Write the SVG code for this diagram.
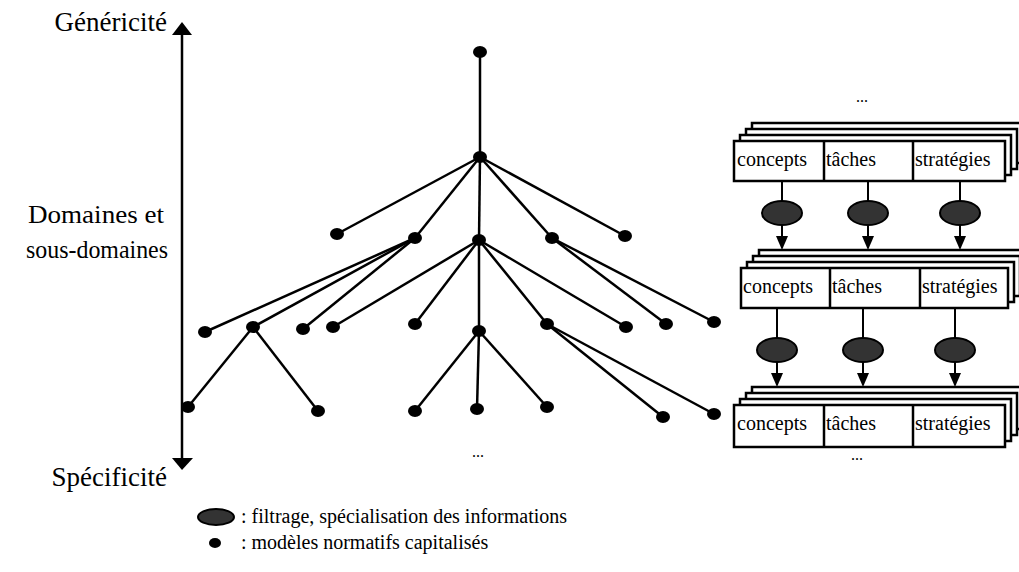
<svg xmlns="http://www.w3.org/2000/svg" width="1019" height="572" viewBox="0 0 1019 572">
<defs>
<style>
.lbl{font-family:"Liberation Serif","Times New Roman",serif;font-size:26px;fill:#000}
.big{font-size:27px}
.box{font-family:"Liberation Serif","Times New Roman",serif;font-size:20px;fill:#000}
.leg{font-family:"Liberation Serif","Times New Roman",serif;font-size:20px;fill:#000}
.dots{font-family:"Liberation Serif","Times New Roman",serif;font-size:16px;fill:#000}
.edge{stroke:#000;stroke-width:2.5;fill:none}
.node{fill:#000}
.lay{fill:#fff;stroke:#000;stroke-width:2.5}
.div{stroke:#000;stroke-width:2.5}
.filt{fill:#333;stroke:#000;stroke-width:2}
.conn{stroke:#000;stroke-width:2;fill:none}
.head{fill:#000}
</style>
</defs>
<rect width="1019" height="572" fill="#fff"/>

<g id="axis">
<line x1="182" y1="34" x2="182" y2="459" stroke="#000" stroke-width="2.5"/>
<polygon points="172,35 192,35 182,22" fill="#000"/>
<polygon points="172,458 193,458 182,470" fill="#000"/>
<text class="lbl big" x="167" y="31" text-anchor="end">Généricité</text>
<text class="lbl" x="28" y="223" textLength="136" lengthAdjust="spacingAndGlyphs">Domaines et</text>
<text class="lbl" x="26" y="258" textLength="142" lengthAdjust="spacingAndGlyphs">sous-domaines</text>
<text class="lbl big" x="167" y="486" text-anchor="end">Spécificité</text>
</g>

<g id="tree-edges">
<line class="edge" x1="480" y1="52" x2="480" y2="157"/>
<line class="edge" x1="480" y1="157" x2="337" y2="234"/>
<line class="edge" x1="480" y1="157" x2="415" y2="238"/>
<line class="edge" x1="480" y1="157" x2="479" y2="240"/>
<line class="edge" x1="480" y1="157" x2="552" y2="238"/>
<line class="edge" x1="480" y1="157" x2="625" y2="236"/>
<line class="edge" x1="415" y1="238" x2="205" y2="332"/>
<line class="edge" x1="415" y1="238" x2="253" y2="327"/>
<line class="edge" x1="415" y1="238" x2="303" y2="329"/>
<line class="edge" x1="479" y1="240" x2="333" y2="327"/>
<line class="edge" x1="479" y1="240" x2="415" y2="324"/>
<line class="edge" x1="479" y1="240" x2="479" y2="331"/>
<line class="edge" x1="479" y1="240" x2="547" y2="324"/>
<line class="edge" x1="479" y1="240" x2="626" y2="327"/>
<line class="edge" x1="552" y1="238" x2="666" y2="324"/>
<line class="edge" x1="552" y1="238" x2="714" y2="322"/>
<line class="edge" x1="253" y1="327" x2="188" y2="407"/>
<line class="edge" x1="253" y1="327" x2="318" y2="411"/>
<line class="edge" x1="479" y1="331" x2="415" y2="411"/>
<line class="edge" x1="479" y1="331" x2="477" y2="409"/>
<line class="edge" x1="479" y1="331" x2="547" y2="407"/>
<line class="edge" x1="547" y1="324" x2="663" y2="417"/>
<line class="edge" x1="547" y1="324" x2="714" y2="414"/>
</g>

<g id="tree-nodes">
<ellipse class="node" cx="480" cy="52" rx="7" ry="6"/>
<ellipse class="node" cx="480" cy="157" rx="7" ry="6"/>
<ellipse class="node" cx="337" cy="234" rx="7" ry="6"/>
<ellipse class="node" cx="415" cy="238" rx="7" ry="6"/>
<ellipse class="node" cx="479" cy="240" rx="7" ry="6"/>
<ellipse class="node" cx="552" cy="238" rx="7" ry="6"/>
<ellipse class="node" cx="625" cy="236" rx="7" ry="6"/>
<ellipse class="node" cx="205" cy="332" rx="7" ry="6"/>
<ellipse class="node" cx="253" cy="327" rx="7" ry="6"/>
<ellipse class="node" cx="303" cy="329" rx="7" ry="6"/>
<ellipse class="node" cx="333" cy="327" rx="7" ry="6"/>
<ellipse class="node" cx="415" cy="324" rx="7" ry="6"/>
<ellipse class="node" cx="479" cy="331" rx="7" ry="6"/>
<ellipse class="node" cx="547" cy="324" rx="7" ry="6"/>
<ellipse class="node" cx="626" cy="327" rx="7" ry="6"/>
<ellipse class="node" cx="666" cy="324" rx="7" ry="6"/>
<ellipse class="node" cx="714" cy="322" rx="7" ry="6"/>
<ellipse class="node" cx="188" cy="407" rx="7" ry="6"/>
<ellipse class="node" cx="318" cy="411" rx="7" ry="6"/>
<ellipse class="node" cx="415" cy="411" rx="7" ry="6"/>
<ellipse class="node" cx="477" cy="409" rx="7" ry="6"/>
<ellipse class="node" cx="547" cy="407" rx="7" ry="6"/>
<ellipse class="node" cx="663" cy="417" rx="7" ry="6"/>
<ellipse class="node" cx="714" cy="414" rx="7" ry="6"/>
<text class="dots" x="478" y="457" text-anchor="middle">...</text>
</g>

<g id="stack1">
<text class="dots" x="862" y="102" text-anchor="middle">...</text>
<rect class="lay" x="752" y="123" width="271" height="40"/>
<rect class="lay" x="746" y="129" width="271" height="40"/>
<rect class="lay" x="740" y="135" width="271" height="40"/>
<rect class="lay" x="734" y="141" width="271" height="40"/>
<line class="div" x1="824" y1="141" x2="824" y2="181"/>
<line class="div" x1="913" y1="141" x2="913" y2="181"/>
<text class="box" x="737" y="166">concepts</text>
<text class="box" x="826" y="166">tâches</text>
<text class="box" x="915" y="166">stratégies</text>
</g>

<g id="stack2">
<rect class="lay" x="759" y="250" width="267" height="40"/>
<rect class="lay" x="753" y="256" width="267" height="40"/>
<rect class="lay" x="747" y="262" width="267" height="40"/>
<rect class="lay" x="741" y="268" width="267" height="40"/>
<line class="div" x1="830" y1="268" x2="830" y2="308"/>
<line class="div" x1="920" y1="268" x2="920" y2="308"/>
<text class="box" x="743" y="293">concepts</text>
<text class="box" x="832" y="293">tâches</text>
<text class="box" x="922" y="293">stratégies</text>
</g>

<g id="stack3">
<rect class="lay" x="752" y="387" width="271" height="42"/>
<rect class="lay" x="746" y="393" width="271" height="42"/>
<rect class="lay" x="740" y="399" width="271" height="42"/>
<rect class="lay" x="734" y="405" width="271" height="42"/>
<line class="div" x1="824" y1="405" x2="824" y2="447"/>
<line class="div" x1="913" y1="405" x2="913" y2="447"/>
<text class="box" x="737" y="430">concepts</text>
<text class="box" x="826" y="430">tâches</text>
<text class="box" x="915" y="430">stratégies</text>
<text class="dots" x="857" y="460" text-anchor="middle">...</text>
</g>

<g id="connectors">
<line class="conn" x1="782" y1="181" x2="782" y2="202"/>
<line class="conn" x1="868" y1="181" x2="868" y2="202"/>
<line class="conn" x1="960" y1="181" x2="960" y2="202"/>
<line class="conn" x1="782" y1="224" x2="782" y2="238"/>
<line class="conn" x1="868" y1="224" x2="868" y2="238"/>
<line class="conn" x1="960" y1="224" x2="960" y2="238"/>
<polygon class="head" points="776,236 788,236 782,250"/>
<polygon class="head" points="862,236 874,236 868,250"/>
<polygon class="head" points="954,236 966,236 960,250"/>
<line class="conn" x1="777" y1="308" x2="777" y2="339"/>
<line class="conn" x1="863" y1="308" x2="863" y2="339"/>
<line class="conn" x1="955" y1="308" x2="955" y2="339"/>
<line class="conn" x1="777" y1="361" x2="777" y2="375"/>
<line class="conn" x1="863" y1="361" x2="863" y2="375"/>
<line class="conn" x1="955" y1="361" x2="955" y2="375"/>
<polygon class="head" points="771,373 783,373 777,387"/>
<polygon class="head" points="857,373 869,373 863,387"/>
<polygon class="head" points="949,373 961,373 955,387"/>
</g>

<g id="filters">
<ellipse class="filt" cx="782" cy="213" rx="20" ry="12"/>
<ellipse class="filt" cx="868" cy="213" rx="20" ry="12"/>
<ellipse class="filt" cx="960" cy="213" rx="20" ry="12"/>
<ellipse class="filt" cx="777" cy="350" rx="20" ry="12"/>
<ellipse class="filt" cx="863" cy="350" rx="20" ry="12"/>
<ellipse class="filt" cx="955" cy="350" rx="20" ry="12"/>
</g>

<g id="legend">
<ellipse class="filt" cx="216" cy="517" rx="18" ry="8"/>
<text class="leg" x="241" y="523">: filtrage, spécialisation des informations</text>
<ellipse class="node" cx="215" cy="543" rx="6" ry="5"/>
<text class="leg" x="241" y="549">: modèles normatifs capitalisés</text>
</g>
</svg>
